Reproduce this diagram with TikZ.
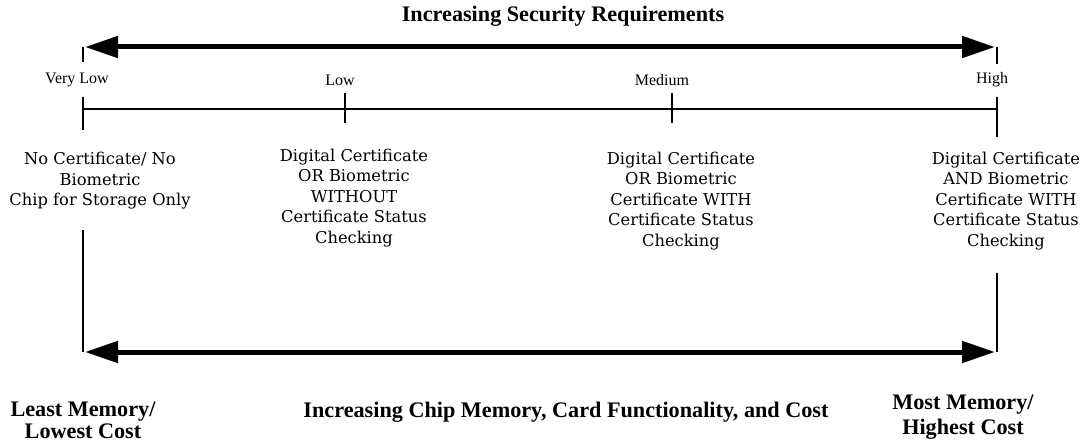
\documentclass[tikz,border=0pt]{standalone}
\usepackage{fontspec}
\setmainfont{Liberation Serif}
\newfontfamily\bodyfont{DejaVu Serif}
\usetikzlibrary{arrows.meta}
\tikzset{
  bigarrow/.style={line width=5pt,
    {Triangle[length=33pt,width=21pt]}-{Triangle[length=33pt,width=21pt]}},
  thin line/.style={line width=1.3pt},
  level/.style={inner sep=0pt, font=\fontsize{16}{18}\selectfont},
  choice/.style={align=center, inner sep=0pt,
    font=\bodyfont\fontsize{16.3}{20.5}\selectfont},
  heading/.style={align=center, inner sep=0pt,
    font=\bfseries\fontsize{22.2}{22}\selectfont},
}
\begin{document}
\begin{tikzpicture}[x=1pt,y=-1pt]
  % \draw[help lines] (0,0) grid (1086,441);
  \useasboundingbox (0,0) rectangle (1086,441);

  % security arrow
  \node[heading] (secTitle) at (563,16) {Increasing Security Requirements};
  \coordinate (secL) at (85,47);
  \coordinate (secR) at (995,47);
  \draw[bigarrow] (secL) -- (secR);
  \draw[thin line] (83,47) -- (83,62);
  \draw[thin line] (997,47) -- (997,64);

  % levels
  \node[level] (veryLow) at (77,80) {Very Low};
  \node[level] (low) at (340,80) {Low};
  \node[level] (medium) at (662,80) {Medium};
  \node[level] (high) at (992,80) {High};

  \draw[thin line] (83,109) -- (997,109);
  \draw[thin line] (83,97) -- (83,130);
  \draw[thin line] (345,93) -- (345,123);
  \draw[thin line] (672,93) -- (672,123);
  \draw[thin line] (997,97) -- (997,137);

  % options
  \node[choice] (optA) at (100,181) {No Certificate/ No\\Biometric\\Chip for Storage Only};
  \node[choice] (optB) at (354,198) {Digital Certificate\\OR Biometric\\WITHOUT\\Certificate Status\\Checking};
  \node[choice] (optC) at (681,201) {Digital Certificate\\OR Biometric\\Certificate WITH\\Certificate Status\\Checking};
  \node[choice] (optD) at (1006,201) {Digital Certificate\\AND Biometric\\Certificate WITH\\Certificate Status\\Checking};

  % memory / cost arrow
  \coordinate (memL) at (85,352);
  \coordinate (memR) at (995,352);
  \draw[thin line] (83,230) -- (83,352);
  \draw[thin line] (997,273) -- (997,352);
  \draw[bigarrow] (memL) -- (memR);

  \node[heading] (leastMem) at (83,420) {Least Memory/\\Lowest Cost};
  \node[heading] (memTitle) at (566,412) {Increasing Chip Memory, Card Functionality, and Cost};
  \node[heading, font=\bfseries\fontsize{22.2}{25}\selectfont] (mostMem) at (963,417) {Most Memory/\\Highest Cost};
\end{tikzpicture}
\end{document}
